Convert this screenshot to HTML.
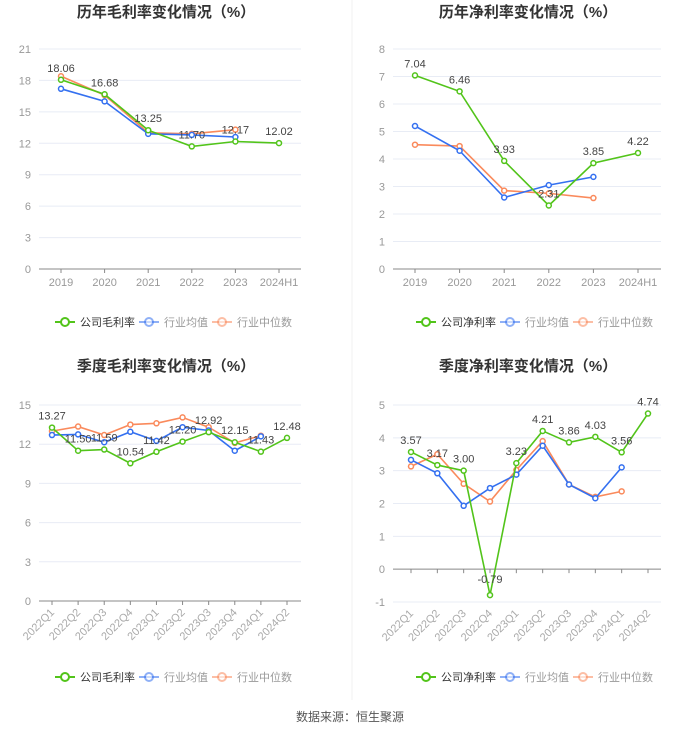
<!DOCTYPE html>
<html><head><meta charset="utf-8">
<style>
body{margin:0;background:#fff;width:700px;height:734px;overflow:hidden;font-family:"Liberation Sans","Noto Sans CJK SC",sans-serif;}
svg{display:block}
</style></head>
<body>
<svg id="s" width="700" height="734" xmlns="http://www.w3.org/2000/svg">
<line x1="352" y1="0" x2="352" y2="700" stroke="#f2f2f2" stroke-width="1"/>
<text x="350" y="721" text-anchor="middle" font-size="12" fill="#555">数据来源：恒生聚源</text>
</svg>
<script>
const yearCats=["2019","2020","2021","2022","2023","2024H1"];
const quarterCats=["2022Q1","2022Q2","2022Q3","2022Q4","2023Q1","2023Q2","2023Q3","2023Q4","2024Q1","2024Q2"];
const grossCompany=[18.06,16.68,13.25,11.70,12.17,12.02];
const grossAvg=[17.2,16.0,12.9,12.8,12.6];
const grossMedian=[18.4,16.6,13.0,12.9,13.3];
const grossTicks=[0,3,6,9,12,15,18,21];
const netCompany=[7.04,6.46,3.93,2.31,3.85,4.22];
const netAvg=[5.2,4.3,2.6,3.05,3.35];
const netMedian=[4.52,4.47,2.85,2.75,2.58];
const netTicks=[0,1,2,3,4,5,6,7,8];
const qGrossCompany=[13.27,11.50,11.59,10.54,11.42,12.20,12.92,12.15,11.43,12.48];
const qGrossAvg=[12.7,12.75,12.15,12.95,12.25,13.3,13.05,11.5,12.6];
const qGrossMedian=[13.0,13.35,12.7,13.5,13.6,14.05,13.3,12.1,12.65];
const qGrossTicks=[0,3,6,9,12,15];
const qNetCompany=[3.57,3.17,3.00,-0.79,3.23,4.21,3.86,4.03,3.56,4.74];
const qNetAvg=[3.33,2.92,1.93,2.47,2.88,3.76,2.58,2.16,3.10];
const qNetMedian=[3.13,3.50,2.60,2.06,3.02,3.90,2.58,2.20,2.37];
const qNetTicks=[-1,0,1,2,3,4,5];

const NS="http://www.w3.org/2000/svg";
const svg=document.getElementById('s');
const G="#52c41a",B="#3470f0",O="#fa8a5c";
function el(t,a,p){const e=document.createElementNS(NS,t);for(const k in a)e.setAttribute(k,a[k]);(p||svg).appendChild(e);return e;}

function chart(cfg){
  const g=el('g',{});
  
  
  const yMin=cfg.ticks[0],yMax=cfg.ticks[cfg.ticks.length-1];
  const ys=v=>cfg.y0-(v-yMin)/(yMax-yMin)*(cfg.y0-cfg.y1);
  const n=cfg.cats.length;
  const xs=i=>cfg.xf+(cfg.xl-cfg.xf)*i/(n-1);
  const t=el('text',{x:cfg.cx,y:cfg.ty,'text-anchor':'middle','font-size':15,'font-weight':'bold',fill:'#333'},g);
  t.textContent=cfg.title;
  
  
  cfg.ticks.forEach(v=>{
    const y=ys(v);
    if(v!==0){const l=el('line',{x1:cfg.ax0,x2:cfg.ax1,y1:y,y2:y,stroke:'#e8ecf5','stroke-width':1},g);
      
      }
    const tx=el('text',{x:cfg.ax0-8,y:y+4,'text-anchor':'end','font-size':11,fill:'#999'},g);
    tx.textContent=v;
    
    
  });
  const zy=ys(0);
  const ax=el('line',{x1:cfg.ax0,x2:cfg.ax1,y1:zy,y2:zy,stroke:'#888','stroke-width':1},g);
  
  
  const labY=cfg.rot?cfg.y0+8:cfg.y0;
  cfg.cats.forEach((c,i)=>{
    const x=xs(i);
    const tk=el('line',{x1:x,x2:x,y1:zy,y2:zy+4,stroke:'#888'},g);
    
    
    let tx;
    if(cfg.rot){
      tx=el('text',{x:x+3,y:labY+4,'text-anchor':'end','font-size':11,fill:'#aaa',transform:`rotate(-45 ${x+3} ${labY+4})`},g);
    }else{
      tx=el('text',{x:x,y:zy+17,'text-anchor':'middle','font-size':11,fill:'#999'},g);
    }
    tx.textContent=c;
    
    
  });
  const series=[[cfg.med,O,'series-industry-median'],[cfg.avg,B,'series-industry-average'],[cfg.comp,G,'series-company']];
  series.forEach(([d,col,nm])=>{
    const sg=el('g',{},g);
    
    
    const p=el('polyline',{points:d.map((v,i)=>xs(i)+','+ys(v)).join(' '),fill:'none',stroke:col,'stroke-width':1.6},sg);
    
    
    d.forEach((v,i)=>{
      const c=el('circle',{cx:xs(i),cy:ys(v),r:2.5,fill:'#fff',stroke:col,'stroke-width':1.5},sg);
      
      
    });
  });
  cfg.comp.forEach((v,i)=>{
    const tx=el('text',{x:xs(i),y:v<0?ys(v)-12:ys(v)-8,'text-anchor':'middle','font-size':11,fill:'#444'},g);
    tx.textContent=v.toFixed(2);
    
    
  });
  const items=[[cfg.lname,G],['行业均值',B],['行业中位数',O]];
  const lx=cfg.legX,offs=[0,84,157];
  items.forEach(([name,col],k)=>{
    const x=lx+offs[k],y=cfg.legY;
    const lg=el('g',{},g);
    
    
    el('line',{x1:x,x2:x+20,y1:y,y2:y,stroke:col,'stroke-width':2,opacity:k?0.55:1},lg);
    el('circle',{cx:x+10,cy:y,r:4,fill:'#fff',stroke:col,'stroke-width':2,opacity:k?0.55:1},lg);
    const tt=el('text',{x:x+25,y:y+4,'font-size':11,fill:k?'#999':'#333'},lg);
    tt.textContent=name;
  });
}
chart({name:'annual-gross-margin-chart',title:'历年毛利率变化情况（%）',cx:166,ty:17,cats:yearCats,ticks:grossTicks,comp:grossCompany,avg:grossAvg,med:grossMedian,y0:269,y1:49,xf:61,xl:279,ax0:39,ax1:301,legX:55,legY:322,lname:'公司毛利率'});
chart({name:'annual-net-margin-chart',title:'历年净利率变化情况（%）',cx:528,ty:17,cats:yearCats,ticks:netTicks,comp:netCompany,avg:netAvg,med:netMedian,y0:269,y1:49,xf:415,xl:638,ax0:393,ax1:661,legX:416,legY:322,lname:'公司净利率'});
chart({name:'quarterly-gross-margin-chart',title:'季度毛利率变化情况（%）',cx:166,ty:371,cats:quarterCats,ticks:qGrossTicks,comp:qGrossCompany,avg:qGrossAvg,med:qGrossMedian,y0:601,y1:405,xf:52,xl:287,ax0:39,ax1:301,legX:55,legY:677,lname:'公司毛利率',rot:true});
chart({name:'quarterly-net-margin-chart',title:'季度净利率变化情况（%）',cx:528,ty:371,cats:quarterCats,ticks:qNetTicks,comp:qNetCompany,avg:qNetAvg,med:qNetMedian,y0:602,y1:405,xf:411,xl:648,ax0:393,ax1:661,legX:416,legY:677,lname:'公司净利率',rot:true});
</script>
</body></html>
